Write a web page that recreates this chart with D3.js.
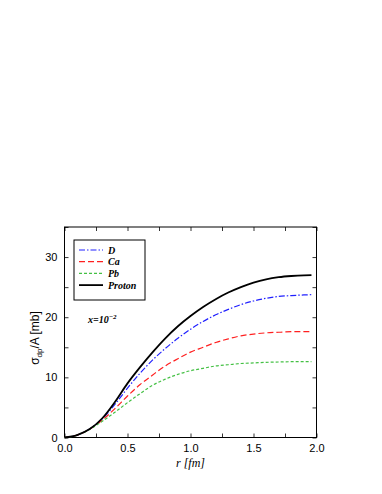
<!DOCTYPE html>
<meta charset="utf-8">
<style>
  body { margin: 0; background: #fff; }
  .tick text { font-family: "Liberation Sans", Arial, sans-serif; font-size: 11px; }
</style>
<script src="https://d3js.org/d3.v7.min.js"></script>
<svg id="chart" width="382" height="494"></svg>
<script>
  // radius grid [fm]
  var rVals = [0, 0.1, 0.2, 0.3, 0.4, 0.5, 0.6, 0.7, 0.8, 0.9, 1.0, 1.1, 1.2, 1.3, 1.4, 1.5, 1.6, 1.7, 1.8, 1.9, 1.96];
  // sigma_dp / A [mb]
  var dVals      = [0, 0.4, 1.4, 3.1, 5.5, 8.2, 10.7, 12.9, 14.8, 16.5, 18.0, 19.3, 20.4, 21.3, 22.1, 22.7, 23.15, 23.45, 23.6, 23.7, 23.75];
  var caVals     = [0, 0.4, 1.4, 2.9, 4.8, 6.9, 8.8, 10.4, 11.9, 13.1, 14.2, 15.0, 15.8, 16.4, 16.9, 17.2, 17.4, 17.5, 17.6, 17.6, 17.6];
  var pbVals     = [0, 0.4, 1.35, 2.7, 4.2, 5.8, 7.3, 8.7, 9.7, 10.5, 11.1, 11.5, 11.9, 12.1, 12.3, 12.4, 12.5, 12.55, 12.6, 12.6, 12.6];
  var protonVals = [0, 0.4, 1.4, 3.2, 5.9, 9.0, 11.7, 14.2, 16.5, 18.5, 20.2, 21.7, 23.0, 24.1, 25.0, 25.75, 26.3, 26.65, 26.85, 26.97, 27.0];

  var seriesNames = ["D", "Ca", "Pb", "Proton"];
  var xTicks = [0, 0.5, 1.0, 1.5, 2.0];
  var yTicks = [0, 10, 20, 30];

  var series = [
    {vals: dVals, color: "#2020ff", dash: "6,2,1.5,2", width: 1.2},
    {vals: caVals, color: "#ff2020", dash: "6,3", width: 1.2},
    {vals: pbVals, color: "#44c044", dash: "3,2", width: 1.2},
    {vals: protonVals, color: "#000", dash: null, width: 1.8}
  ];

  var svg = d3.select("svg");
  var pLeft = 64.5, pRight = 316.5, pTop = 227, pBottom = 437.5;

  var x = d3.scaleLinear().domain([0, 2]).range([pLeft, pRight]);
  var y = d3.scaleLinear().domain([0, 35]).range([pBottom, pTop]);

  // ticks, inward on all four sides
  function addAxis(axisFn, scale, ticks, fmt, transform) {
    var g = svg.append("g").attr("transform", transform)
      .call(axisFn(scale).tickValues(ticks).tickSize(-4).tickPadding(7).tickFormat(fmt));
    g.select(".domain").remove();
    g.selectAll("line").attr("stroke", "#000").attr("stroke-width", 0.8);
    g.selectAll("text").attr("fill", "#000");
    return g;
  }
  var xMinor = [0, 0.25, 0.5, 0.75, 1, 1.25, 1.5, 1.75, 2];
  var yMinor = [0, 5, 10, 15, 20, 25, 30, 35];
  var blank = function() { return ""; };

  addAxis(d3.axisBottom, x, xMinor, function(d) { return xTicks.indexOf(d) >= 0 ? d3.format(".1f")(d) : ""; }, "translate(0," + pBottom + ")");
  addAxis(d3.axisTop, x, xMinor, blank, "translate(0," + pTop + ")");
  addAxis(d3.axisLeft, y, yMinor, function(d) { return yTicks.indexOf(d) >= 0 ? d : ""; }, "translate(" + pLeft + ",0)");
  addAxis(d3.axisRight, y, yMinor, blank, "translate(" + pRight + ",0)");

  // frame
  svg.append("rect")
    .attr("x", pLeft).attr("y", pTop)
    .attr("width", pRight - pLeft).attr("height", pBottom - pTop)
    .attr("fill", "none").attr("stroke", "#000").attr("stroke-width", 1);

  var line = d3.line()
    .x(function(d) { return x(d[0]); })
    .y(function(d) { return y(d[1]); })
    .curve(d3.curveMonotoneX);

  series.forEach(function(s) {
    svg.append("path")
      .datum(rVals.map(function(r, i) { return [r, s.vals[i]]; }))
      .attr("d", line)
      .attr("fill", "none")
      .attr("stroke", s.color)
      .attr("stroke-width", s.width)
      .attr("stroke-dasharray", s.dash);
  });

  // legend
  var lg = svg.append("g");
  lg.append("rect").attr("x", 74).attr("y", 240).attr("width", 71).attr("height", 60)
    .attr("fill", "#fff").attr("stroke", "#000").attr("stroke-width", 1);
  series.forEach(function(s, i) {
    var yy = 250 + i * 11.7;
    lg.append("line").attr("x1", 79).attr("x2", 103).attr("y1", yy).attr("y2", yy)
      .attr("stroke", s.color).attr("stroke-width", s.width).attr("stroke-dasharray", s.dash);
    lg.append("text").attr("x", 108).attr("y", yy + 3.5)
      .attr("font-family", "Liberation Serif, Times New Roman, serif")
      .attr("font-style", "italic").attr("font-weight", "bold").attr("font-size", 10)
      .text(seriesNames[i]);
  });

  // x = 10^-2 label
  var xl = svg.append("text").attr("x", 88).attr("y", 323)
    .attr("font-family", "Liberation Serif, Times New Roman, serif")
    .attr("font-style", "italic").attr("font-weight", "bold").attr("font-size", 10);
  xl.append("tspan").text("x=10");
  xl.append("tspan").attr("dy", -4).attr("font-size", 7).text("\u22122");

  // axis titles
  svg.append("text").attr("x", (pLeft + pRight) / 2).attr("y", 467)
    .attr("text-anchor", "middle")
    .attr("font-family", "Liberation Serif, Times New Roman, serif")
    .attr("font-style", "italic").attr("font-size", 12)
    .text("r [fm]");

  var yt = svg.append("text")
    .attr("transform", "translate(39,338) rotate(-90)")
    .attr("text-anchor", "middle")
    .attr("font-family", "Liberation Sans, Arial, sans-serif")
    .attr("font-size", 12);
  yt.append("tspan").text("\u03c3");
  yt.append("tspan").attr("dy", 3).attr("font-size", 8).text("dp");
  yt.append("tspan").attr("dy", -3).text("/A [mb]");
</script>
